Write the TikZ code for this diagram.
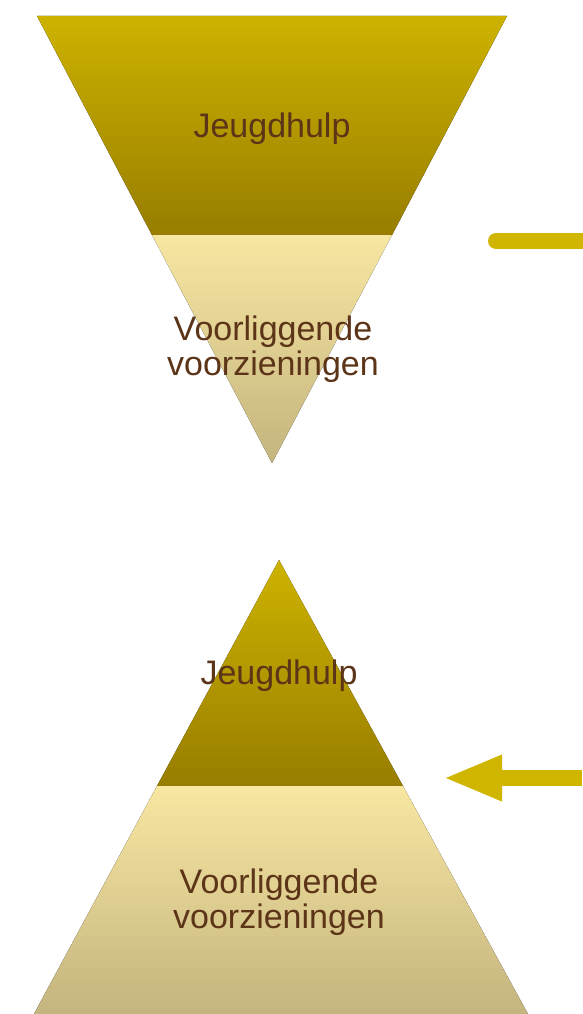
\documentclass[tikz,border=0pt]{standalone}
\usepackage{fontspec}
\setmainfont{Liberation Sans}
\usetikzlibrary{arrows.meta}

\definecolor{darkgoldtop}{RGB}{205,179,0}
\definecolor{darkgoldbot}{RGB}{152,125,0}
\definecolor{lightgoldtop}{RGB}{248,231,162}
\definecolor{lightgoldbot}{RGB}{196,180,126}
\definecolor{arrowgold}{RGB}{208,182,0}
\definecolor{labelbrown}{RGB}{92,52,24}

\begin{document}
\begin{tikzpicture}[x=1pt,y=-1pt,
    lbl/.style={text=labelbrown, font=\fontsize{34}{35}\selectfont, align=center, anchor=base, inner sep=0pt},
    darkband/.style={top color=darkgoldtop, bottom color=darkgoldbot, draw=none},
    lightband/.style={top color=lightgoldtop, bottom color=lightgoldbot, draw=none},
    bar/.style={draw=arrowgold, line width=16pt}]
    \useasboundingbox (0,0) rectangle (582,1014);

    % Funnel (upside down)
    \fill[darkband] (37,16) -- (507,16) -- (392,235) -- (152,235) -- cycle;
    \fill[lightband] (152,235) -- (392,235) -- (272,463) -- cycle;
    \node[lbl] (jeugdtop) at (272,137) {Jeugdhulp};
    \node[lbl] (voortop) at (273,375) {Voorliggende\\voorzieningen};

    % Pyramid
    \fill[darkband] (279,560) -- (403,786) -- (157,786) -- cycle;
    \fill[lightband] (157,786) -- (403,786) -- (528,1014) -- (34,1014) -- cycle;
    \node[lbl] (jeugdbot) at (279,684) {Jeugdhulp};
    \node[lbl] (voorbot) at (279,928) {Voorliggende\\voorzieningen};

    % Bars at the right
    \coordinate (bartop) at (496,241);
    \coordinate (bartopend) at (582,241);
    \draw[bar, line cap=round] (bartop) -- (bartopend);

    \coordinate (arrowtip) at (443,778);
    \coordinate (arrowend) at (582,778);
    \draw[bar, -{Triangle[length=59pt, width=42pt]}] (arrowend) -- (arrowtip);
\end{tikzpicture}
\end{document}
